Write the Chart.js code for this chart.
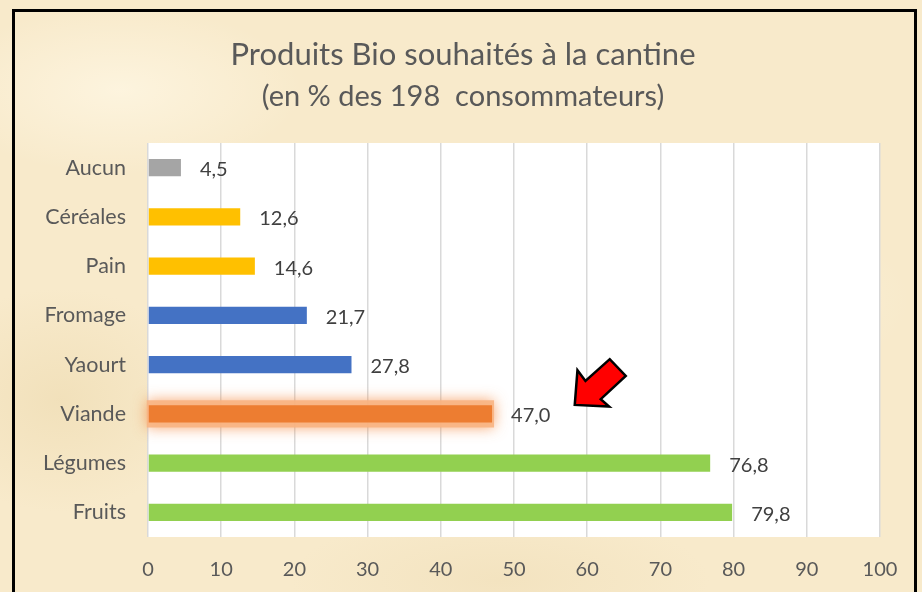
<!DOCTYPE html>
<html>
<head>
<meta charset="utf-8">
<script src="https://cdn.jsdelivr.net/npm/chart.js@4.4.1/dist/chart.umd.min.js"></script>
<style>
  html, body { margin: 0; padding: 0; }
  body {
    width: 922px; height: 592px; overflow: hidden; position: relative;
    background:
      radial-gradient(ellipse 260px 120px at 120px 90px, rgba(255,248,230,0.7), rgba(255,248,230,0) 70%),
      radial-gradient(ellipse 300px 140px at 700px 300px, rgba(255,248,230,0.6), rgba(255,248,230,0) 70%),
      radial-gradient(ellipse 200px 160px at 60px 400px, rgba(235,215,170,0.5), rgba(235,215,170,0) 70%),
      radial-gradient(ellipse 300px 100px at 500px 580px, rgba(238,220,180,0.5), rgba(238,220,180,0) 70%),
      #f8eacb;
  }
  #frame { position: absolute; left: 12px; top: 9px; width: 905px; height: 620px; border: 3px solid #000; pointer-events: none; box-sizing: border-box; }
  #c { position: absolute; left: 0; top: 0; }
</style>
</head>
<body>
<canvas id="c" width="922" height="592"></canvas>
<div id="frame"></div>
<script>
const categories = ["Aucun", "Céréales", "Pain", "Fromage", "Yaourt", "Viande", "Légumes", "Fruits"];
const values = [4.5, 12.6, 14.6, 21.7, 27.8, 47.0, 76.8, 79.8];
const barColors = ["#a5a5a5", "#ffc000", "#ffc000", "#4472c4", "#4472c4", "#ed7d31", "#92d050", "#92d050"];
const xTicks = [0, 10, 20, 30, 40, 50, 60, 70, 80, 90, 100];
const titleLines = ["Produits Bio souhaités à la cantine", "(en % des 198  consommateurs)"];
const highlightIndex = 5;

const FONT = "Lato, 'Open Sans', sans-serif";

const bgPlugin = {
  id: 'plotBg',
  beforeDraw(chart) {
    const { ctx, chartArea: a } = chart;
    ctx.save();
    ctx.fillStyle = '#ffffff';
    ctx.fillRect(a.left, a.top, a.right - a.left, a.bottom - a.top);
    ctx.restore();
  }
};

const glowPlugin = {
  id: 'glow',
  beforeDatasetsDraw(chart) {
    const meta = chart.getDatasetMeta(0);
    const el = meta.data[highlightIndex];
    if (!el) return;
    const { ctx } = chart;
    const h = el.height;
    ctx.save();
    ctx.shadowColor = 'rgba(245,140,70,0.85)';
    ctx.shadowBlur = 14;
    ctx.fillStyle = 'rgba(248,180,130,0.9)';
    ctx.fillRect(el.base - 2, el.y - h / 2 - 5, el.x - el.base + 4, h + 10);
    ctx.restore();
  }
};

const labelPlugin = {
  id: 'valLabels',
  afterDatasetsDraw(chart) {
    const { ctx } = chart;
    const meta = chart.getDatasetMeta(0);
    ctx.save();
    ctx.font = "20px " + FONT;
    ctx.fillStyle = '#404040';
    ctx.textBaseline = 'middle';
    ctx.textAlign = 'left';
    meta.data.forEach((el, i) => {
      const txt = values[i].toFixed(1).replace('.', ',');
      ctx.fillText(txt, el.x + 19, el.y + 2);
    });
    ctx.restore();
  }
};

const titlePlugin = {
  id: 'twoLineTitle',
  afterDraw(chart) {
    const { ctx } = chart;
    const cx = 463;
    ctx.save();
    ctx.fillStyle = '#595959';
    ctx.textAlign = 'center';
    ctx.textBaseline = 'middle';
    ctx.font = "31px " + FONT;
    ctx.fillText(titleLines[0], cx, 55);
    ctx.font = "29px " + FONT;
    ctx.fillText(titleLines[1], cx, 97);
    ctx.restore();
  }
};

const arrowPlugin = {
  id: 'arrow',
  afterDraw(chart) {
    const { ctx } = chart;
    const xs = chart.scales.x;
    const el = chart.getDatasetMeta(0).data[highlightIndex];
    const tx = xs.getPixelForValue(58.3);
    const ty = el.y - 9;
    const pts = [[0,0],[2.7,-34.7],[10.7,-24],[35,-45.7],[51,-29],[26,-5.7],[34.4,1.7]];
    ctx.save();
    ctx.beginPath();
    pts.forEach(([dx, dy], i) => {
      if (i === 0) ctx.moveTo(tx + dx, ty + dy); else ctx.lineTo(tx + dx, ty + dy);
    });
    ctx.closePath();
    ctx.fillStyle = '#ff0000';
    ctx.fill();
    ctx.lineWidth = 2.5;
    ctx.lineJoin = 'miter';
    ctx.strokeStyle = '#000000';
    ctx.stroke();
    ctx.restore();
  }
};

new Chart(document.getElementById('c'), {
  type: 'bar',
  data: {
    labels: categories,
    datasets: [{
      data: values,
      backgroundColor: barColors,
      borderWidth: 0,
      barPercentage: 0.35,
      categoryPercentage: 1.0
    }]
  },
  options: {
    indexAxis: 'y',
    responsive: false,
    animation: false,
    devicePixelRatio: 1,
    layout: { padding: { top: 143, right: 42, left: 0, bottom: 0 } },
    plugins: { legend: { display: false }, tooltip: { enabled: false }, title: { display: false } },
    scales: {
      x: {
        min: 0, max: 100,
        afterBuildTicks: (s) => { s.ticks = xTicks.map(v => ({ value: v })); },
        afterFit: (s) => { s.height = 55; },
        grid: { color: '#d9d9d9', lineWidth: 1.5, drawTicks: false },
        border: { display: false },
        ticks: { color: '#595959', font: { family: FONT, size: 20 }, padding: 21 }
      },
      y: {
        afterFit: (s) => { s.width = 148; },
        grid: { display: false, drawTicks: false },
        border: { display: false },
        ticks: { color: '#595959', font: { family: FONT, size: 21.5 }, padding: 22 }
      }
    }
  },
  plugins: [bgPlugin, glowPlugin, labelPlugin, titlePlugin, arrowPlugin]
});
</script>
</body>
</html>
